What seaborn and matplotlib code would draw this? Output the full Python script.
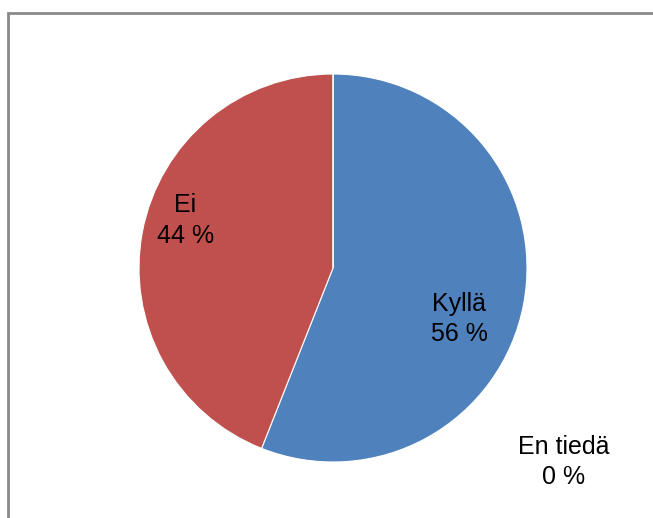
import matplotlib
matplotlib.use("Agg")
import matplotlib.pyplot as plt
from matplotlib.patches import Rectangle
import seaborn as sns

categories = ["Kyllä", "Ei", "En tiedä"]
values = [56, 44, 0]
label_pos = [(0.65, -0.265), (-0.76, 0.245), (1.19, -1.0)]

sns.set_theme(style="white")
plt.rcParams["font.family"] = ["Liberation Sans", "DejaVu Sans"]

colors = ["#4F81BD", "#C0504D", "#9BBB59"]

W, H = 653, 518
fig = plt.figure(figsize=(W / 100, H / 100), dpi=100)

cx, cy, r = 333, 268, 194
ax = fig.add_axes([(cx - r) / W, (H - cy - r) / H, 2 * r / W, 2 * r / H])

ax.pie(values, colors=colors, startangle=90, counterclock=False, radius=1,
       wedgeprops=dict(edgecolor="white", linewidth=0.8))
ax.set_xlim(-1, 1)
ax.set_ylim(-1, 1)
ax.set_aspect("equal")
ax.axis("off")

for name, v, (x, y) in zip(categories, values, label_pos):
    ax.text(x, y, f"{name}\n{v} %", ha="center", va="center", fontsize=18,
            color="black", linespacing=1.32, clip_on=False)

# chart area border (open at right and bottom edges)
frame = Rectangle((8 / W, -0.05), 1.0, (H - 13) / H + 0.05, transform=fig.transFigure,
                  fill=False, edgecolor="#8a8a8a", linewidth=2)
fig.add_artist(frame)

fig.savefig("out.png", dpi=100)
